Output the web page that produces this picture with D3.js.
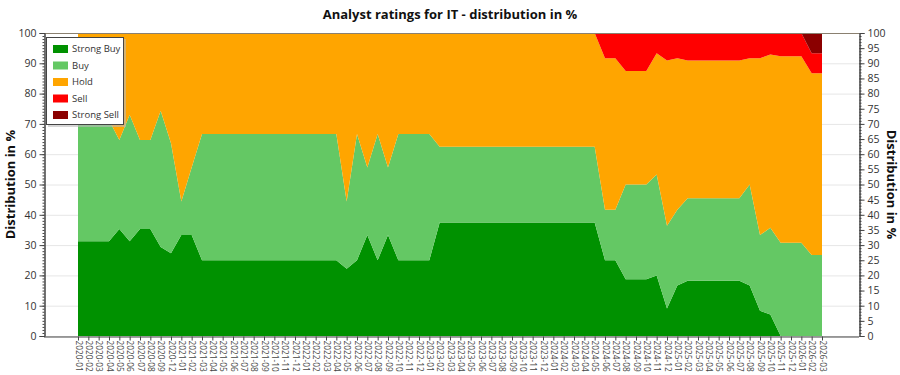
<!DOCTYPE html>
<html><head><meta charset="utf-8">
<script src="https://cdn.jsdelivr.net/npm/d3@7"></script>
<style>
body{margin:0;background:#fff;}
svg{font-family:"Open Sans","Noto Sans",sans-serif;}
</style></head>
<body><svg id="c" width="900" height="375"></svg>
<script>
const months = ["2020-01","2020-02","2020-03","2020-04","2020-05","2020-06","2020-07","2020-08","2020-09","2020-12",
"2021-01","2021-02","2021-03","2021-04","2021-05","2021-06","2021-07","2021-08","2021-09","2021-10","2021-11","2021-12",
"2022-01","2022-02","2022-03","2022-04","2022-05","2022-06","2022-07","2022-08","2022-09","2022-10","2022-11","2022-12",
"2023-01","2023-02","2023-03","2023-04","2023-05","2023-06","2023-07","2023-08","2023-09","2023-10","2023-11","2023-12",
"2024-01","2024-02","2024-03","2024-04","2024-05","2024-06","2024-07","2024-08","2024-09","2024-10","2024-11","2024-12",
"2025-01","2025-02","2025-03","2025-04","2025-05","2025-06","2025-07","2025-08","2025-09","2025-10","2025-11","2025-12",
"2026-01","2026-02","2026-03"];

const strongBuy = [31.25,31.25,31.25,31.25,35.3,31.25,35.3,35.3,29.4,27.3,
33.3,33.3,25,25,25,25,25,25,25,25,25,25,
25,25,25,25,22.2,25,33.3,25,33.3,25,25,25,
25,37.5,37.5,37.5,37.5,37.5,37.5,37.5,37.5,37.5,37.5,37.5,
37.5,37.5,37.5,37.5,37.5,25,25,18.75,18.75,18.75,20,9.1,
16.7,18.2,18.2,18.2,18.2,18.2,18.2,16.7,8.3,7.1,0,0,
0,0,0];
const buy = [40,40,40,40,29.4,41.75,29.4,29.4,44.9,36.3,
11.1,22.3,41.7,41.7,41.7,41.7,41.7,41.7,41.7,41.7,41.7,41.7,
41.7,41.7,41.7,41.7,22.2,41.7,22.3,41.7,22.3,41.7,41.7,41.7,
41.7,25,25,25,25,25,25,25,25,25,25,25,
25,25,25,25,25,16.7,16.7,31.25,31.25,31.25,33.3,27.3,
25,27.3,27.3,27.3,27.3,27.3,27.3,33.3,25,28.6,30.8,30.8,
30.8,26.7,26.7];
const hold = [28.75,28.75,28.75,28.75,35.3,27,35.3,35.3,25.7,36.4,
55.6,44.4,33.3,33.3,33.3,33.3,33.3,33.3,33.3,33.3,33.3,33.3,
33.3,33.3,33.3,33.3,55.6,33.3,44.4,33.3,44.4,33.3,33.3,33.3,
33.3,37.5,37.5,37.5,37.5,37.5,37.5,37.5,37.5,37.5,37.5,37.5,
37.5,37.5,37.5,37.5,37.5,50,50,37.5,37.5,37.5,40,54.5,
50,45.4,45.4,45.4,45.4,45.4,45.4,41.7,58.4,57.2,61.5,61.5,
61.5,60,60];
const sell = [0,0,0,0,0,0,0,0,0,0,
0,0,0,0,0,0,0,0,0,0,0,0,
0,0,0,0,0,0,0,0,0,0,0,0,
0,0,0,0,0,0,0,0,0,0,0,0,
0,0,0,0,0,8.3,8.3,12.5,12.5,12.5,6.7,9.1,
8.3,9.1,9.1,9.1,9.1,9.1,9.1,8.3,8.3,7.1,7.7,7.7,
7.7,6.6,6.6];
const strongSell = [0,0,0,0,0,0,0,0,0,0,
0,0,0,0,0,0,0,0,0,0,0,0,
0,0,0,0,0,0,0,0,0,0,0,0,
0,0,0,0,0,0,0,0,0,0,0,0,
0,0,0,0,0,0,0,0,0,0,0,0,
0,0,0,0,0,0,0,0,0,0,0,0,
0,6.7,6.7];
const seriesNames = ["Strong Buy","Buy","Hold","Sell","Strong Sell"];
const seriesColors = ["#009100","#64c864","#ffa500","#ff0000","#8b0000"];
const yTicksLeft = [0,10,20,30,40,50,60,70,80,90,100];
const yTicksRight = [0,5,10,15,20,25,30,35,40,45,50,55,60,65,70,75,80,85,90,95,100];

const svg = d3.select("#c");
const L = 44, R = 859, T = 33, B = 336;
const table = months.map((m,i)=>({m, "Strong Buy":strongBuy[i], "Buy":buy[i], "Hold":hold[i], "Sell":sell[i], "Strong Sell":strongSell[i]}));

const x = d3.scalePoint().domain(months).range([78, 822]);
const y = d3.scaleLinear().domain([0,100]).range([B, T]);

// gridlines
svg.append("g").selectAll("line").data(yTicksLeft).join("line")
  .attr("x1",L).attr("x2",R).attr("y1",d=>y(d)+0.5).attr("y2",d=>y(d)+0.5)
  .attr("stroke","#e6e6e6").attr("stroke-width",1);

const stack = d3.stack().keys(seriesNames);
const layers = stack(table);
const area = d3.area().x(d=>x(d.data.m)).y0(d=>y(d[0])).y1(d=>y(d[1]));
svg.append("g").selectAll("path").data(layers).join("path")
  .attr("d",area).attr("fill",(d,i)=>seriesColors[i]);

// top border
svg.append("line").attr("x1",L).attr("x2",R).attr("y1",T+0.5).attr("y2",T+0.5).attr("stroke","#8a8070");

const gl = svg.append("g").attr("transform",`translate(${L+0.5},0)`);
gl.call(d3.axisLeft(y).ticks(100).tickSize(2).tickFormat(""));
gl.append("g").call(d3.axisLeft(y).tickValues(yTicksLeft).tickSize(5).tickFormat(d=>d));
gl.selectAll("path.domain").attr("stroke","#444");
gl.selectAll(".tick line").attr("stroke","#444");
gl.selectAll("text").attr("font-size",10.5).attr("fill","#333").attr("font-family","Open Sans, sans-serif");

const gr = svg.append("g").attr("transform",`translate(${R+0.5},0)`);
gr.call(d3.axisRight(y).ticks(100).tickSize(2).tickFormat(""));
gr.append("g").call(d3.axisRight(y).tickValues(yTicksRight).tickSize(5).tickFormat(d=>d));
gr.selectAll("path.domain").attr("stroke","#444");
gr.selectAll(".tick line").attr("stroke","#444");
gr.selectAll("text").attr("font-size",10.5).attr("fill","#333").attr("font-family","Open Sans, sans-serif");

// bottom axis
const gb = svg.append("g").attr("transform",`translate(0,${B+0.5})`);
gb.call(d3.axisBottom(x).tickSize(4).tickSizeOuter(0));
gb.select("path.domain").attr("d",`M${L},0.5H${R}`).attr("stroke","#444");
gb.selectAll(".tick line").attr("stroke","#444");
gb.selectAll(".tick text").attr("font-size",8.3).attr("fill","#444")
  .attr("text-anchor","start").attr("transform","rotate(90)").attr("x",4).attr("y",0).attr("dy","0.35em")
  .attr("font-family","Open Sans, sans-serif");

// titles
svg.append("text").attr("x",450).attr("y",19).attr("text-anchor","middle")
  .attr("font-size",13).attr("font-weight","bold").attr("fill","#111")
  .text("Analyst ratings for IT - distribution in %");
svg.append("text").attr("transform",`translate(15,${(T+B)/2}) rotate(-90)`).attr("text-anchor","middle")
  .attr("font-size",13).attr("font-weight","bold").attr("fill","#111").text("Distribution in %");
svg.append("text").attr("transform",`translate(887,${(T+B)/2}) rotate(90)`).attr("text-anchor","middle")
  .attr("font-size",13).attr("font-weight","bold").attr("fill","#111").text("Distribution in %");

// legend
const lg = svg.append("g").attr("transform","translate(46,37)");
lg.append("rect").attr("x",2).attr("y",2).attr("width",78).attr("height",88).attr("fill","#bbb").attr("opacity",0.6);
lg.append("rect").attr("x",0.5).attr("y",0.5).attr("width",77).attr("height",87).attr("fill","#fff").attr("stroke","#444");
seriesNames.forEach((n,i)=>{
  const row = lg.append("g").attr("transform",`translate(7,${8+i*16.5})`);
  row.append("rect").attr("width",15).attr("height",8).attr("fill",seriesColors[i]);
  row.append("text").attr("x",19).attr("y",4).attr("dy","0.35em").attr("font-size",9.5).attr("fill","#333").text(n);
});
</script></body></html>
